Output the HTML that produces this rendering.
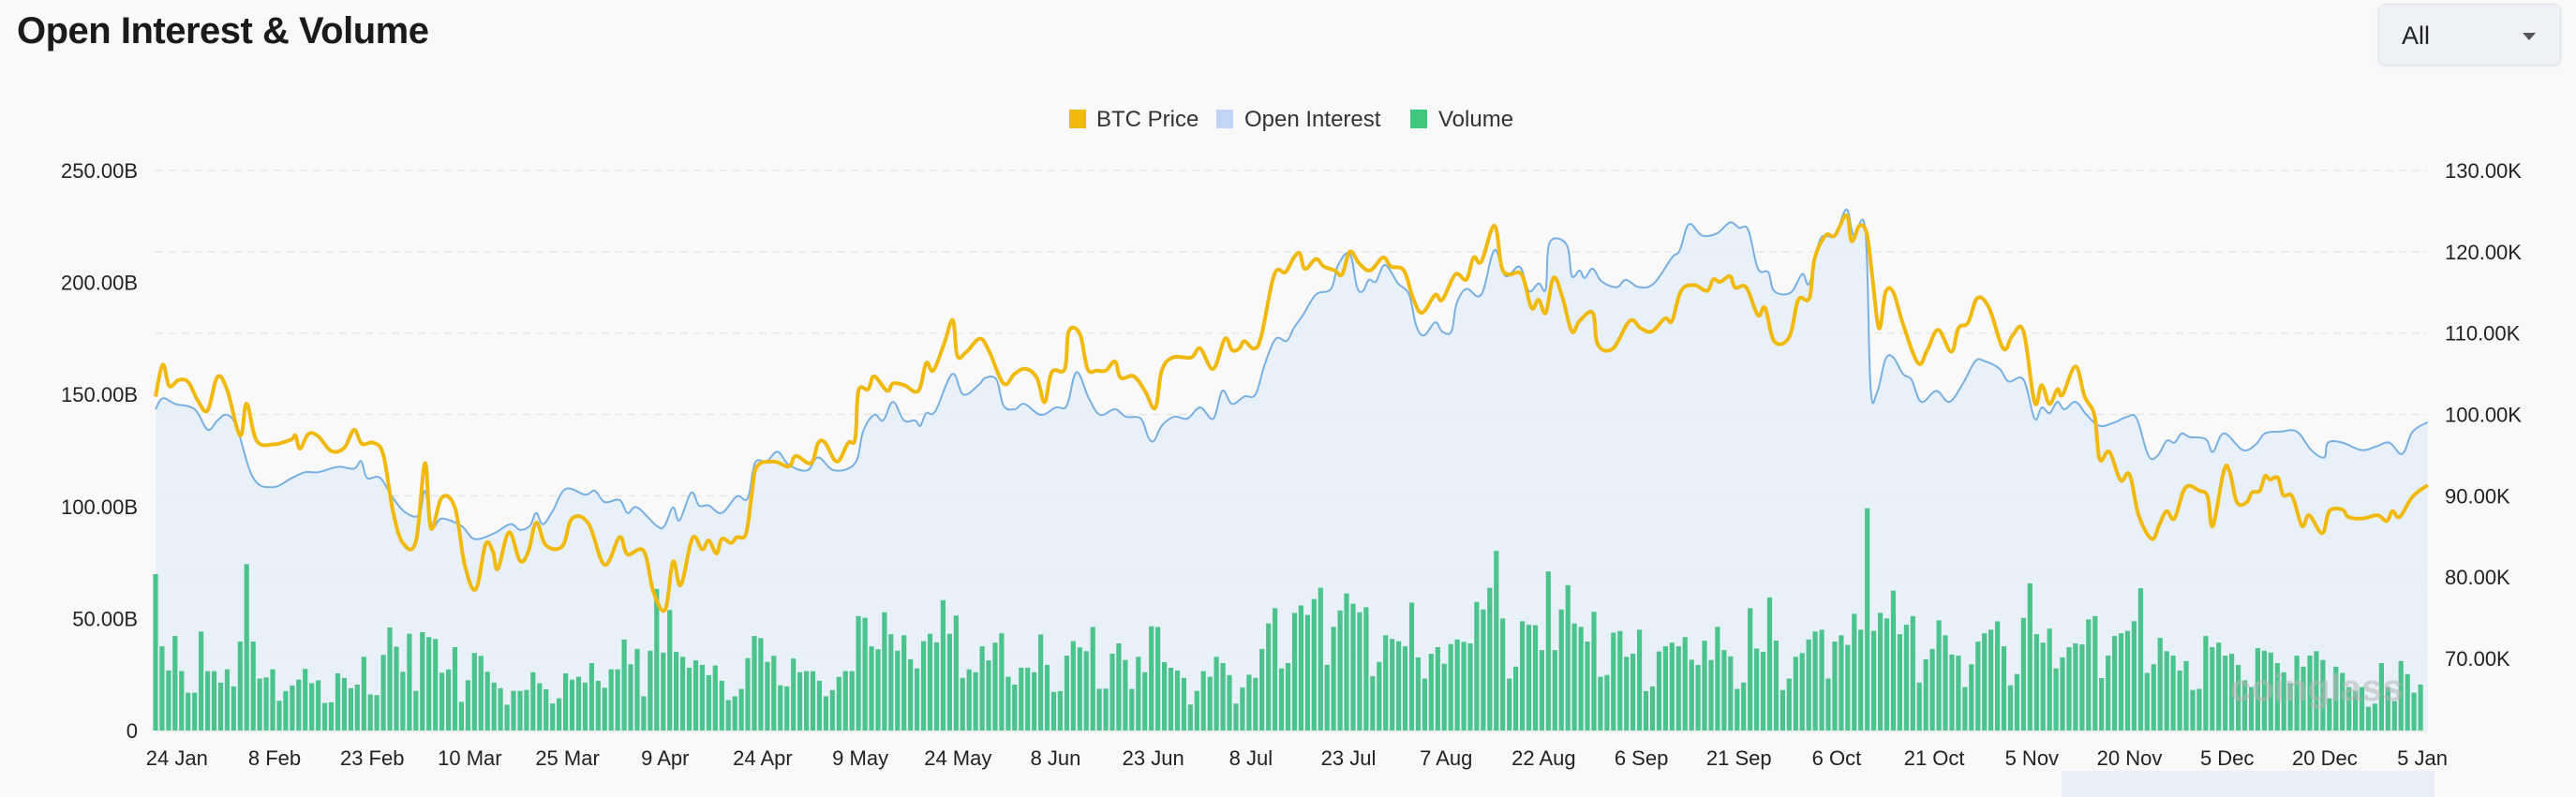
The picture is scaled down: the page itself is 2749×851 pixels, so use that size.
<!DOCTYPE html>
<html><head><meta charset="utf-8">
<style>
html,body{margin:0;padding:0;}
body{width:2749px;height:851px;background:#f9f9fa;position:relative;overflow:hidden;font-family:"Liberation Sans",sans-serif;}
#title{position:absolute;left:18px;top:11px;font-size:40px;font-weight:bold;color:#1a1a1a;letter-spacing:-0.5px;}
#dropdown{position:absolute;left:2538px;top:4px;width:195px;height:66px;box-sizing:border-box;border:1px solid #dfe3e8;border-radius:8px;background:#eef1f5;box-shadow:0 1px 3px rgba(0,0,0,0.08);}
#dropdown span{position:absolute;left:24px;top:18px;font-size:27px;color:#222;}
#dropdown i{position:absolute;right:26px;top:30px;width:0;height:0;border-left:7px solid transparent;border-right:7px solid transparent;border-top:8px solid #555;}
svg{position:absolute;left:0;top:0;}
</style></head>
<body>
<div id="title">Open Interest &amp; Volume</div>
<div id="dropdown"><span>All</span><i></i></div>
<svg id="chart" width="2749" height="851">
  <g>
    <rect x="1141" y="117" width="18" height="20" fill="#f0b90b"/>
    <text x="1170" y="135" font-size="24" fill="#333">BTC Price</text>
    <rect x="1298" y="117" width="18" height="20" fill="#c3d5f6"/>
    <text x="1328" y="135" font-size="24" fill="#333">Open Interest</text>
    <rect x="1505" y="117" width="18" height="20" fill="#3ec77b"/>
    <text x="1535" y="135" font-size="24" fill="#333">Volume</text>
  </g>
  <g id="grid"></g>
  <g id="area"></g>
  <g id="bars"></g>
  <text x="2380" y="748" font-size="40" font-weight="bold" fill="#b8b8b8" opacity="0.55">coinglass</text>
  <g id="lines"></g>
  <g id="axes"></g>
  <rect x="2200" y="823" width="398" height="28" fill="#e8eefa"/>
</svg>
<script>
const xTickLabels = ['24 Jan','8 Feb','23 Feb','10 Mar','25 Mar','9 Apr','24 Apr','9 May','24 May','8 Jun','23 Jun','8 Jul','23 Jul','7 Aug','22 Aug','6 Sep','21 Sep','6 Oct','21 Oct','5 Nov','20 Nov','5 Dec','20 Dec','5 Jan'];
const leftTicks = [0,50,100,150,200,250];
const rightTicks = [70,80,90,100,110,120,130];
const volStartDay = -3;
const volumes = [69.8,37.6,26.8,42.2,26.5,16.9,16.9,44.2,26.5,26.5,21.4,27.3,19.7,39.7,74.3,39.7,23.2,23.7,27.3,13.3,17.6,20.1,22.7,27.5,21.1,22.4,12.3,12.6,25.5,23.5,18.9,20.5,32.9,16.1,15.8,33.8,46.0,37.4,26.2,43.2,17.7,43.9,41.7,40.9,25.8,27.3,37.2,12.8,22.4,34.6,33.3,26.2,21.4,18.9,11.5,17.7,17.7,18.1,26.0,21.1,18.4,12.1,14.4,25.5,22.7,24.0,21.4,30.1,22.2,19.1,27.3,27.3,40.6,29.6,36.4,15.3,35.6,63.2,34.8,53.8,35.1,32.9,28.0,31.3,29.3,24.7,29.0,22.2,13.6,
15.3,18.6,32.3,42.2,41.2,30.6,33.3,20.2,19.7,32.1,26.0,26.5,26.5,22.2,15.3,18.1,23.9,26.5,26.5,51.1,50.3,37.6,36.3,52.8,43.0,35.6,42.5,31.8,27.7,39.9,43.2,39.4,58.2,43.2,51.3,23.5,27.3,26.0,37.6,31.3,39.2,43.4,24.0,20.5,28.0,28.0,26.0,42.9,29.3,17.2,17.6,33.4,39.9,37.1,35.4,46.2,18.6,18.7,34.3,38.9,31.5,18.6,32.9,26.0,46.5,46.2,30.5,28.0,26.8,23.5,11.6,17.7,26.5,24.0,32.9,30.1,24.7,12.0,19.2,24.9,23.5,36.4,47.8,54.6,27.7,30.1,52.5,55.8,
51.6,58.7,63.7,29.3,46.3,53.6,61.2,56.6,52.8,55.0,24.3,30.6,42.5,40.9,39.9,37.6,57.1,32.6,23.2,34.3,37.2,29.8,38.6,40.6,39.6,38.9,57.4,54.0,63.7,80.2,50.0,23.2,28.5,48.8,47.2,47.0,35.9,71.0,35.9,54.0,64.9,47.8,46.3,39.7,53.0,24.0,24.8,43.7,44.4,32.9,34.3,45.0,17.6,19.7,35.3,37.6,39.2,37.6,41.7,31.6,29.3,40.1,31.5,46.3,35.9,33.1,18.6,21.4,54.6,36.6,35.1,59.4,40.1,18.1,23.2,32.9,34.6,40.6,44.2,45.0,23.2,39.7,42.5,38.2,52.1,45.0,99.2,
44.5,52.5,50.0,62.4,43.0,47.2,51.1,21.4,31.8,36.4,49.2,42.5,33.9,33.4,19.4,29.6,39.7,43.4,45.0,48.7,37.6,20.2,25.2,50.3,65.7,43.0,39.2,45.5,27.7,32.6,37.2,38.9,38.4,49.6,51.1,23.4,33.4,42.2,43.4,44.5,48.8,63.5,25.7,29.6,41.4,35.4,33.4,26.8,31.0,18.1,18.6,42.2,37.2,39.2,33.4,34.3,29.3,22.4,19.4,36.8,35.6,34.8,30.1,26.0,21.1,33.4,28.5,33.4,35.4,31.5,14.4,28.5,25.7,19.4,17.7,19.4,10.6,12.0,30.1,19.4,13.1,31.0,25.2,16.9,20.5];
const priceDays = [-3,-1.9,-0.9,0.5,2,3.5,5,6.5,8,10,11,12.5,15,17.8,18.5,19.2,20.5,22,24,26,27.5,28.7,30.5,32,33.5,35,37,38.4,39.3,41,43,44.5,46.2,47.7,48.8,49.6,51.3,53,54.3,55.5,57,59.5,61,63.5,66,68.3,69.5,72,73.5,75.3,76.5,77.7,79.5,81,82,83.2,
84,85.4,86.3,87.7,88.6,89.4,92,94.3,95.4,97.7,98.8,99.9,101.7,103.4,104.5,105,106.5,107.4,109.4,110.3,112,114.2,115.4,116.5,118.2,119.5,120.2,121.6,123.6,125,127.3,129,130.7,132.4,133.6,134.7,136.7,137.3,139,140.2,141.6,143,144.4,145.3,147.3,149,150.6,151.6,153.3,156.1,157.5,159.5,161.3,162.4,163.5,164.3,165.8,166.9,168.9,170.6,
171.9,172.8,173.6,175.3,176.5,178.2,179.3,180.5,181.9,183.6,185.6,186.8,188.8,190.2,191.6,193.6,194.7,196.7,198.4,199.5,200.7,202.7,203.8,204.9,206.9,208.4,209.5,210.6,211.8,213.2,214.6,215.8,217.8,218.6,220.9,223.5,225.2,226.9,228.9,230,231.4,233.4,235.4,236.3,237.4,238.9,239.7,241.4,243.2,244.3,245.7,248,249.4,251.1,251.9,253.6,255,256.8,257.6,258.8,259.9,
260.7,261.8,262.8,264,265.5,267.8,269.2,270.9,272.9,274,275.5,276.9,278.7,280.9,282.3,284,285.7,286.8,288,289.2,290,292,293.4,294.9,295.7,297.2,298.9,300.3,301.7,303.7,304.9,306,307.2,308.9,311.1,312.3,313.1,314.8,315.7,316.8,318.3,319.1,320.3,321.1,321.9,323.1,323.9,325.3,326.8,327.9,329.9,331,333,333.9,336.1,338.4,339.8,340.7,341.8,343.8,346.1];
const priceVals = [102.2,106.1,103.5,104.2,104.0,101.7,100.5,104.6,103.0,97.4,101.3,96.8,96.3,96.9,97.4,95.8,97.6,97.3,95.5,95.9,98.1,96.4,96.5,95.0,88.0,84.2,84.4,94.0,86.0,89.8,88.5,81.5,78.5,84.0,83.2,81.0,85.5,82.0,83.2,86.7,83.9,83.8,87.2,86.6,81.5,84.9,82.8,83.2,78.2,76.0,81.9,79.0,84.8,83.4,84.5,82.9,
84.7,84.2,84.9,85.3,90.1,93.6,94.2,93.6,94.9,94.0,96.5,96.5,94.2,96.5,97.0,102.9,103.1,104.7,102.9,103.8,103.6,102.9,106.3,105.4,108.8,111.6,107.2,107.7,109.3,107.9,103.8,105.0,105.6,104.5,101.5,105.2,105.6,110.2,109.9,105.6,105.4,105.4,106.5,104.5,104.7,102.9,100.8,105.4,107.0,107.0,108.1,105.6,109.3,107.9,108.1,109.0,108.1,109.7,117.2,117.5,
119.3,119.8,117.9,119.1,118.2,117.7,117.2,120.0,118.6,117.7,119.3,118.2,117.7,114.3,112.5,114.7,114.1,117.2,116.6,119.3,118.8,123.2,118.2,117.2,117.2,113.1,114.1,112.5,116.8,114.3,110.2,111.5,112.5,108.6,108.1,111.5,110.6,110.2,111.8,111.5,115.2,115.9,115.2,116.6,116.3,117.0,115.6,115.6,112.2,113.1,109.0,109.5,114.1,114.3,119.1,122.0,122.0,124.5,121.3,123.2,122.3,
117.5,110.6,115.0,115.0,111.1,106.3,107.9,110.4,107.7,110.6,111.3,114.3,113.1,108.1,109.7,110.2,101.5,103.6,101.3,103.1,102.4,105.9,102.2,99.9,94.5,95.4,91.9,92.6,87.6,84.7,86.5,88.1,87.2,91.0,90.6,89.9,86.3,93.1,92.9,89.2,89.2,90.4,90.6,92.4,92.0,92.2,90.1,89.9,86.3,87.6,85.4,88.1,88.3,87.4,87.2,87.6,86.9,88.1,87.4,89.9,91.3];
const oiDays = [-3,-1.9,0,3,5,6.5,8,9.5,12,15,18,20,22,25,27.5,28.6,29.5,31.5,33.5,35.5,37.5,38.4,39.5,41,44,46,49,51.5,53,54.5,55.5,56.5,58,60,63,64.5,66,68.3,69.5,71,74,75.2,76.5,77.5,79.3,80.5,82,
84,86.3,88,89.1,90.9,92.6,94.3,97.1,98.8,101.3,104.5,105.7,107.4,108.8,110.3,112,113.7,114.5,115.4,116.8,119.4,121.1,123.4,124.5,126.2,127.3,129,130.5,133,135.3,137,138.5,140.4,142.1,144.4,146.1,148.4,149.5,150.4,151.6,153.5,155.5,157.5,159.5,160.9,162.4,164.3,166,167.4,169.1,170.8,
171.9,173.3,175.3,177.6,178.7,180.5,181.6,182.5,183.4,184.5,185.9,187.9,189.6,190.7,191.9,193.6,194.7,196.1,196.9,198.4,200.7,202.7,204.4,206.6,208,209.5,210.6,211.2,213.8,214.6,215.8,216.6,217.8,219.2,221.5,222.9,224.9,227.2,230,231.2,232.6,234.6,236.9,238.9,240.3,241.7,243.2,244.8,245.7,248.2,250,251.1,252.8,255,256.8,257.9,259.7,
260.5,261.5,262.8,264,265.5,266.8,268.3,270.6,272.6,274.7,276.6,278,280.3,281.7,284,285.7,286.8,288,289.2,290.3,292,293.7,295.7,298,300,301.4,303.2,304.6,306,307.2,308.3,309.5,312,313.1,314.8,317.7,319.7,321.1,323.4,326,328.2,330.2,330.8,333,335.9,338.2,340.2,342.2,343.8,346.1];
const oiVals = [143.4,148.3,145.8,143.4,134.3,138.4,140.9,135.1,112.8,108.6,112.8,115.3,115.3,117.7,116.9,120.2,112.8,112.8,103.7,97.1,96.3,107.0,91.3,94.6,91.3,85.5,88.0,92.1,89.6,91.3,97.1,92.1,97.9,107.8,105.3,107.0,102.0,102.9,97.1,99.6,91.3,91.3,99.6,93.8,106.2,100.4,100.4,
97.1,104.5,103.7,119.4,120.2,124.4,118.6,116.1,121.9,116.1,119.4,133.4,140.9,138.4,146.7,138.4,138.4,136.0,141.7,142.5,159.1,150.0,154.1,157.4,156.6,145.0,143.4,145.8,140.9,144.2,145.0,159.9,148.3,140.9,143.4,140.1,139.2,131.0,129.3,136.0,140.1,139.2,144.2,139.2,151.6,145.8,149.1,150.0,163.2,174.8,173.9,
179.7,185.5,194.6,197.1,207.8,212.8,197.9,196.2,201.2,200.4,207.8,199.6,194.6,180.6,176.4,182.2,178.1,178.1,190.5,197.1,194.6,214.4,202.9,207.0,196.2,199.6,197.1,217.7,216.9,202.9,205.3,202.0,206.2,200.4,197.9,201.2,197.9,199.6,211.1,214.4,226.0,221.0,221.9,226.8,224.4,223.5,206.2,204.5,196.2,195.4,203.7,199.6,219.4,221.0,232.6,221.0,223.5,
153.3,150.8,165.7,166.5,159.1,156.6,146.7,151.6,146.7,154.9,164.9,164.9,161.5,155.8,156.6,139.2,144.2,141.7,146.7,143.4,146.7,140.9,136.0,137.6,140.1,139.2,122.7,122.7,129.3,128.5,132.6,131.0,130.1,124.4,132.6,125.2,127.7,132.6,133.4,133.4,125.2,121.9,128.5,128.5,125.2,126.8,128.5,123.5,133.4,137.6];

const NS='http://www.w3.org/2000/svg';
const X0=166, X1=2590, D0=-3, D1=346;
function xDay(d){return X0+(d-D0)*(X1-X0)/(D1-D0);}
function yLeft(v){return 780-v*(780-182)/250;}
function yRight(v){return 182+(130-v)*(703-182)/60;}
function mk(tag,attrs,parent){const e=document.createElementNS(NS,tag);for(const k in attrs)e.setAttribute(k,attrs[k]);parent.appendChild(e);return e;}
function smooth(pts){
  let d='M'+pts[0][0].toFixed(1)+','+pts[0][1].toFixed(1);
  const t=0.18;
  for(let i=0;i<pts.length-1;i++){
    const p0=pts[Math.max(0,i-1)],p1=pts[i],p2=pts[i+1],p3=pts[Math.min(pts.length-1,i+2)];
    const c1x=p1[0]+(p2[0]-p0[0])*t,c1y=p1[1]+(p2[1]-p0[1])*t;
    const c2x=p2[0]-(p3[0]-p1[0])*t,c2y=p2[1]-(p3[1]-p1[1])*t;
    d+=' C'+c1x.toFixed(1)+','+c1y.toFixed(1)+' '+c2x.toFixed(1)+','+c2y.toFixed(1)+' '+p2[0].toFixed(1)+','+p2[1].toFixed(1);
  }
  return d;
}
const grid=document.getElementById('grid');
rightTicks.forEach(v=>{
  const l=mk('line',{x1:X0,x2:X1,y1:yRight(v),y2:yRight(v),stroke:'#e6e6e6','stroke-width':1.5,'stroke-dasharray':'8 6'},grid);
  
  
});
const axes=document.getElementById('axes');
leftTicks.forEach(v=>{
  const t=mk('text',{x:147,y:yLeft(v)+8,'text-anchor':'end','font-size':22,fill:'#222'},axes);
  t.textContent=v===0?'0':v.toFixed(2)+'B';
  
  
});
rightTicks.forEach(v=>{
  const t=mk('text',{x:2609,y:yRight(v)+8,'font-size':22,fill:'#222'},axes);
  t.textContent=v.toFixed(2)+'K';
  
  
});
xTickLabels.forEach((s,i)=>{
  const t=mk('text',{x:xDay(i*15)+2,y:817,'text-anchor':'middle','font-size':22,fill:'#222'},axes);
  t.textContent=s;
  
  
});
const oiPts=oiDays.map((d,i)=>[xDay(d),yLeft(oiVals[i])]);
const oiPath=smooth(oiPts);
const area=mk('path',{d:oiPath+' L'+oiPts[oiPts.length-1][0]+',780 L'+oiPts[0][0]+',780 Z',fill:'#e6eff9',opacity:0.9},document.getElementById('area'));


const bars=document.getElementById('bars');
volumes.forEach((v,i)=>{
  const x=xDay(volStartDay+i);
  const b=mk('rect',{x:(x-2.6).toFixed(1),y:yLeft(v).toFixed(1),width:5.2,height:(780-yLeft(v)).toFixed(1),fill:'#4cc38a'},bars);
  
  
});
const lines=document.getElementById('lines');
const oiLine=mk('path',{d:oiPath,fill:'none',stroke:'#78b0e2','stroke-width':2},lines);


const pPts=priceDays.map((d,i)=>[xDay(d),yRight(priceVals[i])]);
const pLine=mk('path',{d:smooth(pPts),fill:'none',stroke:'#f0b90b','stroke-width':4,'stroke-linejoin':'round'},lines);


const base=mk('line',{x1:X0,x2:X1,y1:781,y2:781,stroke:'#d8e6d8','stroke-width':1},axes);


</script>
</body></html>
